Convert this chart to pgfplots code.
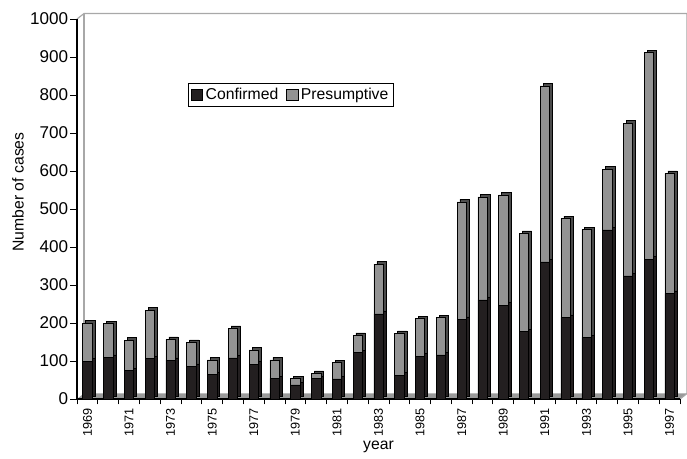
\documentclass[border=0pt]{standalone}
\usepackage{pgfplots}
\pgfplotsset{compat=1.18}
\usepackage{pgfplotstable}
\usepackage{fontspec}
\setmainfont{Liberation Sans}

\definecolor{barblack}{HTML}{231F20}
\definecolor{bargray}{HTML}{939393}
\definecolor{sidegray}{HTML}{4A4A4A}
\definecolor{floorgray}{HTML}{9A9A9A}
\definecolor{wallgray}{HTML}{A8A8A8}

% x = position, conf = confirmed, pres = presumptive
\pgfplotstableread{
x year conf pres
0  1969 100 100
1  1970 110  88
2  1971  75  80
3  1972 106 128
4  1973 102  55
5  1974  86  63
6  1975  65  38
7  1976 108  78
8  1977  92  37
9  1978  54  49
10 1979  37  17
11 1980  54  14
12 1981  53  43
13 1982 122  46
14 1983 224 131
15 1984  63 110
16 1985 113  99
17 1986 116  98
18 1987 210 309
19 1988 261 271
20 1989 247 290
21 1990 177 259
22 1991 361 463
23 1992 215 260
24 1993 162 284
25 1994 445 160
26 1995 324 402
27 1996 368 544
28 1997 278 316
}\cases

\pgfplotsset{
  base/.style={
    width=452.25pt, height=285pt, scale only axis,
    xmin=-0.5, xmax=28.5, ymin=0, ymax=1000,
  },
  sq legend/.style={
    legend image code/.code={\draw[##1, draw=black, line width=0.5pt] (0pt,-4.2pt) rectangle (8.5pt,4.2pt);}
  },
}

\begin{document}
\begin{tikzpicture}
% floor and back walls
\begin{axis}[base, hide axis, clip=false]
  \addplot[draw=none, mark=none] coordinates {(0,0)};
  \fill[floorgray] (axis cs:-0.5,0) -- ([xshift=5.25pt,yshift=4.3pt]axis cs:-0.5,0)
    -- ([xshift=5.25pt,yshift=4.3pt]axis cs:28.5,0) -- (axis cs:28.5,0) -- cycle;
  \draw[wallgray, line width=0.9pt] (axis cs:-0.5,1000) -- ([xshift=5.25pt,yshift=4.1pt]axis cs:-0.5,1000)
    -- ([xshift=5.25pt,yshift=4.1pt]axis cs:28.5,1000) -- ([xshift=5.25pt,yshift=4.1pt]axis cs:28.5,0)
    -- (axis cs:28.5,0);
  \draw[wallgray, line width=0.9pt] ([xshift=5.25pt,yshift=4.1pt]axis cs:-0.5,1000)
    -- ([xshift=5.25pt,yshift=4.1pt]axis cs:-0.5,0);
\end{axis}

% side and top faces of the bars
\begin{axis}[base, hide axis, ybar stacked, bar width=7pt, xshift=2.2pt, yshift=1.8pt]
  \addplot[fill=barblack, draw=black, line width=0.4pt] table[x=x, y=conf] {\cases};
  \addplot[fill=sidegray, draw=black, line width=0.4pt] table[x=x, y=pres] {\cases};
\end{axis}

% front faces, axes and labels
\begin{axis}[base, ybar stacked, bar width=7pt,
    axis x line*=bottom, axis y line*=left,
    axis line style={black, line width=0.8pt, -},
    tick align=outside, major tick length=5pt, minor tick length=4pt,
    tick style={black, line width=0.6pt},
    xtick={0,2,...,28},
    xticklabels={1969,1971,1973,1975,1977,1979,1981,1983,1985,1987,1989,1991,1993,1995,1997},
    minor xtick={-0.5,0.5,...,28.5},
    every major x tick/.append style={draw=none},
    ytick={0,100,...,1000},
    /pgf/number format/assume math mode=true,
    /pgf/number format/1000 sep={},
    x tick label style={rotate=90, anchor=east, font=\fontsize{9.5}{10}\selectfont, inner sep=2pt},
    y tick label style={font=\fontsize{12.8}{14}\selectfont, inner sep=1.5pt},
    xlabel={year}, ylabel={Number of cases},
    label style={font=\fontsize{11.8}{13}\selectfont},
    xlabel style={at={(axis description cs:0.5,-0.126)}, anchor=center},
    ylabel style={at={(axis description cs:-0.098,0.545)}, anchor=center, rotate=0},
    legend columns=2,
    legend style={at={(0.184,0.832)}, anchor=north west, draw=black, line width=0.6pt,
      font=\fontsize{11.8}{13}\selectfont, inner xsep=2pt, inner ysep=1.5pt,
      /tikz/every even column/.append style={column sep=4pt}},
  ]
  \addplot[fill=barblack, draw=black, line width=0.4pt, sq legend] table[x=x, y=conf] {\cases};
  \addplot[fill=bargray, draw=black, line width=0.4pt, sq legend] table[x=x, y=pres] {\cases};
  \legend{Confirmed, Presumptive}
  \coordinate (bl) at (rel axis cs:0,0);
  \coordinate (tr) at (rel axis cs:1,1);
\end{axis}
\pgfresetboundingbox
\path ([shift={(-57.75pt,-44.25pt)}]bl) rectangle ([shift={(5.25pt,14.25pt)}]tr);
\end{tikzpicture}
\end{document}
